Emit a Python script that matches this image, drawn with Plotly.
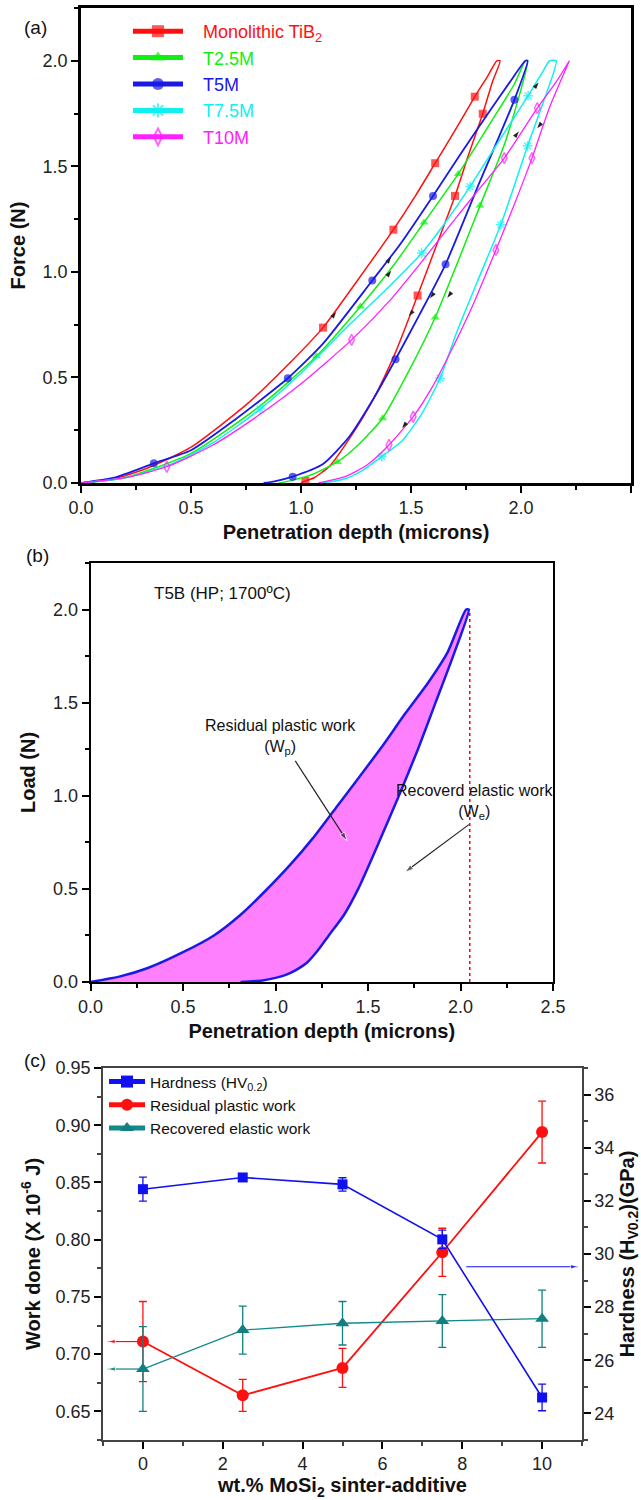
import plotly.graph_objects as go

FONT = "Liberation Sans, Arial, Helvetica, sans-serif"

# ---------------- Panel (a): load-displacement curves ----------------
names_a = ["Monolithic TiB<sub>2</sub>", "T2.5M", "T5M", "T7.5M", "T10M"]

tib2_load_x = [0, 0.15, 0.3, 0.5, 0.75, 0.95, 1.10, 1.25, 1.42, 1.52, 1.61, 1.70, 1.79, 1.85, 1.89]
tib2_load_y = [0, 0.02, 0.07, 0.17, 0.37, 0.57, 0.736, 0.95, 1.20, 1.36, 1.515, 1.67, 1.83, 1.93, 2.0]
tib2_unload_x = [1.905, 1.87, 1.826, 1.76, 1.70, 1.61, 1.53, 1.43, 1.33, 1.22, 1.13, 1.06, 1.02, 1.0]
tib2_unload_y = [2.0, 1.9, 1.749, 1.55, 1.36, 1.11, 0.888, 0.62, 0.40, 0.21, 0.08, 0.025, 0.01, 0.0]

t25_load_x = [0, 0.2, 0.5, 0.82, 1.07, 1.27, 1.42, 1.559, 1.715, 1.87, 1.97, 2.02]
t25_load_y = [0, 0.025, 0.14, 0.37, 0.60, 0.836, 1.03, 1.234, 1.464, 1.72, 1.89, 2.0]
t25_unload_x = [2.03, 1.93, 1.814, 1.71, 1.61, 1.49, 1.371, 1.26, 1.165, 1.05, 0.95, 0.9]
t25_unload_y = [2.0, 1.62, 1.314, 1.04, 0.784, 0.53, 0.307, 0.18, 0.10, 0.04, 0.01, 0.0]

t5_load_x = [0, 0.15, 0.331, 0.5, 0.7, 0.94, 1.1, 1.324, 1.45, 1.60, 1.72, 1.85, 1.95, 2.02]
t5_load_y = [0, 0.025, 0.093, 0.155, 0.30, 0.496, 0.66, 0.959, 1.13, 1.36, 1.55, 1.75, 1.9, 2.0]
t5_unload_x = [2.03, 1.97, 1.81, 1.657, 1.54, 1.43, 1.33, 1.22, 1.10, 0.962, 0.88, 0.83]
t5_unload_y = [2.0, 1.815, 1.42, 1.036, 0.80, 0.586, 0.40, 0.22, 0.09, 0.03, 0.008, 0.0]

t75_load_x = [0, 0.2, 0.4, 0.6, 0.814, 1.0, 1.23, 1.40, 1.549, 1.66, 1.768, 1.90, 2.032, 2.10, 2.13]
t75_load_y = [0, 0.025, 0.085, 0.19, 0.35, 0.52, 0.76, 0.93, 1.089, 1.24, 1.404, 1.62, 1.834, 1.95, 2.0]
t75_unload_x = [2.16, 2.10, 2.03, 1.97, 1.908, 1.80, 1.71, 1.632, 1.55, 1.46, 1.367, 1.28, 1.20, 1.1]
t75_unload_y = [2.0, 1.80, 1.597, 1.41, 1.223, 0.95, 0.72, 0.496, 0.33, 0.20, 0.125, 0.06, 0.02, 0.0]

t10_load_x = [0, 0.2, 0.39, 0.6, 0.82, 1.0, 1.23, 1.40, 1.55, 1.70, 1.80, 1.924, 2.074, 2.16, 2.22]
t10_load_y = [0, 0.025, 0.077, 0.18, 0.33, 0.47, 0.678, 0.86, 1.05, 1.25, 1.38, 1.539, 1.776, 1.9, 2.0]
t10_unload_x = [2.22, 2.13, 2.05, 1.97, 1.886, 1.78, 1.67, 1.60, 1.51, 1.40, 1.30, 1.20, 1.08]
t10_unload_y = [2.0, 1.78, 1.539, 1.32, 1.104, 0.84, 0.60, 0.46, 0.314, 0.18, 0.085, 0.03, 0.0]

# direction arrows drawn on the curves (depth, force)
arrow_load_x = [1.16, 1.41, 1.41, 2.08, 1.99]
arrow_load_y = [0.81, 1.07, 1.005, 1.897, 1.665]
arrow_unload_x = [1.49, 1.586, 1.665, 1.46, 2.074]
arrow_unload_y = [0.79, 0.875, 0.878, 0.26, 1.68]

# ---------------- Panel (b): T5B loop ----------------
t5b_load_x = [0, 0.16, 0.31, 0.5, 0.667, 0.81, 0.946, 1.08, 1.2, 1.33, 1.46, 1.58, 1.70, 1.82, 1.93, 2.03]
t5b_load_y = [0, 0.03, 0.075, 0.16, 0.25, 0.36, 0.49, 0.63, 0.77, 0.94, 1.11, 1.27, 1.44, 1.60, 1.77, 2.0]
t5b_unload_x = [2.045, 1.96, 1.865, 1.77, 1.667, 1.559, 1.447, 1.37, 1.288, 1.225, 1.171, 1.117, 1.063,
                1.0, 0.93, 0.811]
t5b_unload_y = [2.0, 1.75, 1.5, 1.25, 1.0, 0.75, 0.5, 0.36, 0.25, 0.165, 0.105, 0.068, 0.041,
                0.022, 0.008, 0.0]
t5b_max_depth = 2.05
t5b_max_load = 2.0
wp_arrow_x = [1.107, 1.386]
wp_arrow_y = [1.187, 0.759]
we_arrow_x = [2.045, 1.70]
we_arrow_y = [0.845, 0.59]

# ---------------- Panel (c): work done & hardness ----------------
mosi2_wt = [0, 2.5, 5, 7.5, 10]
hardness = [32.44, 32.88, 32.62, 30.55, 24.6]
hardness_err = [0.45, 0.1, 0.25, 0.35, 0.5]
plastic_work = [0.711, 0.664, 0.688, 0.789, 0.894]
plastic_err = [0.035, 0.014, 0.017, 0.021, 0.027]
elastic_work = [0.687, 0.721, 0.727, 0.729, 0.731]
elastic_err = [0.037, 0.021, 0.019, 0.023, 0.025]
hardness_arrow_x = [8.1, 10.9]
hardness_arrow_level = 29.52
work_arrow_x = [-0.1, -0.88]

# ---------------- styles ----------------
W, H = 641, 1500
colors_a = ["#FF1010", "#10F010", "#1A1AE6", "#10F0F0", "#FF20FF"]
symbols_a = ["square", "triangle-up", "circle", "asterisk-open", "diamond-tall-open"]
widths_a = [1.5, 1.5, 1.8, 1.5, 1.3]
marks_a = [
    ([6, 8, 10, 12], [2, 4, 6, 12]),
    ([4, 5, 7, 8], [2, 4, 6, 8]),
    ([2, 5, 7, 9], [1, 3, 5, 9]),
    ([4, 8, 10, 12], [2, 4, 7, 10]),
    ([2, 6, 11, 12], [2, 4, 8, 9]),
]
curves_a = [
    (tib2_load_x, tib2_load_y, tib2_unload_x, tib2_unload_y),
    (t25_load_x, t25_load_y, t25_unload_x, t25_unload_y),
    (t5_load_x, t5_load_y, t5_unload_x, t5_unload_y),
    (t75_load_x, t75_load_y, t75_unload_x, t75_unload_y),
    (t10_load_x, t10_load_y, t10_unload_x, t10_unload_y),
]
NB = "\u00a0\u00a0\u00a0"

fig = go.Figure()

for name, col, sym, lw, (lm, um), (lx, ly, ux, uy) in zip(names_a, colors_a, symbols_a, widths_a, marks_a, curves_a):
    xs = list(lx) + list(ux)
    ys = list(ly) + list(uy)
    marked = set(lm) | {len(lx) + i for i in um}
    sizes = [8 if i in marked else 0 for i in range(len(xs))]
    fig.add_trace(go.Scatter(
        x=xs, y=ys, mode="lines+markers", xaxis="x", yaxis="y",
        name=f'{NB}<span style="color:{col}">{name}</span>',
        line=dict(color=col, width=lw, shape="spline", smoothing=0.6),
        marker=dict(symbol=sym, size=sizes, color=col,
                    line=dict(color=col, width=1.5 if "open" in sym else 0)),
        legend="legend", showlegend=True,
    ))

# small direction arrows on the curves
fig.add_trace(go.Scatter(x=arrow_load_x, y=arrow_load_y, mode="markers", xaxis="x", yaxis="y",
                         marker=dict(symbol="arrow", size=7, angle=38, color="#222222"),
                         showlegend=False, hoverinfo="skip"))
fig.add_trace(go.Scatter(x=arrow_unload_x, y=arrow_unload_y, mode="markers", xaxis="x", yaxis="y",
                         marker=dict(symbol="arrow", size=7, angle=218, color="#222222"),
                         showlegend=False, hoverinfo="skip"))

# panel (b)
loop_x = list(t5b_load_x) + list(t5b_unload_x)
loop_y = list(t5b_load_y) + list(t5b_unload_y)
fig.add_trace(go.Scatter(
    x=loop_x, y=loop_y, mode="lines", fill="toself", fillcolor="#FF80FF",
    line=dict(color="#1A1AE6", width=2.5, shape="spline", smoothing=0.6),
    xaxis="x2", yaxis="y2", showlegend=False, hoverinfo="skip",
))
fig.add_trace(go.Scatter(
    x=[t5b_max_depth, t5b_max_depth], y=[0, t5b_max_load], mode="lines",
    line=dict(color="#FF0000", width=1.5, dash="dot"),
    xaxis="x2", yaxis="y2", showlegend=False, hoverinfo="skip",
))
for axx, axy in [(wp_arrow_x, wp_arrow_y), (we_arrow_x, we_arrow_y)]:
    fig.add_trace(go.Scatter(
        x=axx, y=axy, mode="lines+markers", xaxis="x2", yaxis="y2",
        line=dict(color="#222222", width=1.2),
        marker=dict(symbol="arrow", size=[0, 9], angleref="previous", color="#222222"),
        showlegend=False, hoverinfo="skip",
    ))

# panel (c)
fig.add_trace(go.Scatter(
    x=mosi2_wt, y=hardness, mode="lines+markers", name="Hardness (HV<sub>0.2</sub>)",
    line=dict(color="#1010F0", width=1.6),
    marker=dict(symbol="square", size=10, color="#1010F0"),
    error_y=dict(type="data", array=hardness_err, color="#1010F0", thickness=1.3, width=4),
    xaxis="x3", yaxis="y4", legend="legend2",
))
fig.add_trace(go.Scatter(
    x=mosi2_wt, y=plastic_work, mode="lines+markers", name="Residual plastic work",
    line=dict(color="#FF1010", width=1.8),
    marker=dict(symbol="circle", size=12, color="#FF1010"),
    error_y=dict(type="data", array=plastic_err, color="#FF1010", thickness=1.3, width=4),
    xaxis="x3", yaxis="y3", legend="legend2",
))
fig.add_trace(go.Scatter(
    x=mosi2_wt, y=elastic_work, mode="lines+markers", name="Recovered elastic work",
    line=dict(color="#128A8A", width=1.3),
    marker=dict(symbol="triangle-up", size=12, color="#128080"),
    error_y=dict(type="data", array=elastic_err, color="#128080", thickness=1.3, width=4),
    xaxis="x3", yaxis="y3", legend="legend2",
))
# arrows pointing to the relevant axes
for yv, col in [(plastic_work[0], "#FF1010"), (elastic_work[0], "#128080")]:
    fig.add_trace(go.Scatter(
        x=work_arrow_x, y=[yv, yv], mode="lines+markers", xaxis="x3", yaxis="y3",
        line=dict(color=col, width=1.2),
        marker=dict(symbol="arrow", size=[0, 8], angle=-90, color=col),
        showlegend=False, hoverinfo="skip", cliponaxis=False,
    ))
fig.add_trace(go.Scatter(
    x=hardness_arrow_x, y=[hardness_arrow_level, hardness_arrow_level], mode="lines+markers",
    xaxis="x3", yaxis="y4", line=dict(color="#1010F0", width=1.2),
    marker=dict(symbol="arrow", size=[0, 8], angle=90, color="#1010F0"),
    showlegend=False, hoverinfo="skip", cliponaxis=False,
))

tickfont = dict(family=FONT, size=18, color="#222222")
titlefont = dict(family=FONT, size=20, color="#111111")


def ax(**kw):
    base = dict(showgrid=False, zeroline=False, showline=True, linecolor="black",
                ticks="outside", tickcolor="black", ticklen=7, tickwidth=1.5,
                tickfont=tickfont, automargin=False)
    base.update(kw)
    return base


fig.update_layout(
    width=W, height=H, margin=dict(l=0, r=0, t=0, b=0, autoexpand=False),
    paper_bgcolor="white", plot_bgcolor="white",
    font=dict(family=FONT, color="#111111"),
    xaxis=ax(domain=[81 / W, 631 / W], range=[0, 2.5], dtick=0.5, tick0=0, tickformat=".1f",
             linewidth=2.5, mirror=True, anchor="y",
             minor=dict(ticks="outside", dtick=0.25, ticklen=4, tickcolor="black"),
             title=dict(text="<b>Penetration depth (microns)</b>", font=titlefont, standoff=8)),
    yaxis=ax(domain=[1 - 483 / H, 1 - 8 / H], range=[0, 2.25], dtick=0.5, tick0=0, tickformat=".1f",
             linewidth=2.5, mirror=True, anchor="x",
             minor=dict(ticks="outside", dtick=0.25, ticklen=4, tickcolor="black"),
             title=dict(text="<b>Force (N)</b>", font=titlefont, standoff=12)),
    xaxis2=ax(domain=[90.5 / W, 553 / W], range=[0, 2.5], dtick=0.5, tick0=0, tickformat=".1f",
              linewidth=1.8, mirror=True, anchor="y2",
              minor=dict(ticks="outside", dtick=0.25, ticklen=4, tickcolor="black"),
              title=dict(text="<b>Penetration depth (microns)</b>", font=titlefont, standoff=8)),
    yaxis2=ax(domain=[1 - 982 / H, 1 - 563 / H], range=[0, 2.25], dtick=0.5, tick0=0, tickformat=".1f",
              linewidth=1.8, mirror=True, anchor="x2",
              minor=dict(ticks="outside", dtick=0.25, ticklen=4, tickcolor="black"),
              title=dict(text="<b>Load (N)</b>", font=titlefont, standoff=12)),
    xaxis3=ax(domain=[103 / W, 582 / W], range=[-1, 11], dtick=2, tick0=0,
              linewidth=1.5, linecolor="#444444", mirror=True, anchor="y3",
              minor=dict(ticks="outside", dtick=1, ticklen=4, tickcolor="#444444"),
              title=dict(text="<b>wt.% MoSi<sub>2</sub> sinter-additive</b>", font=titlefont, standoff=4)),
    yaxis3=ax(domain=[1 - 1440 / H, 1 - 1068 / H], range=[0.625, 0.95], dtick=0.05, tick0=0.65,
              tickformat=".2f", linewidth=1.5, linecolor="#444444", mirror=True, anchor="x3",
              minor=dict(ticks="outside", dtick=0.025, ticklen=4, tickcolor="#444444"),
              title=dict(text="<b>Work done (X 10<sup>-6</sup> J)</b>", font=titlefont, standoff=10)),
    yaxis4=ax(overlaying="y3", side="right", range=[23, 37], dtick=2, tick0=24, anchor="x3",
              linewidth=1.5, linecolor="#444444",
              minor=dict(ticks="outside", dtick=1, ticklen=4, tickcolor="#444444"),
              title=dict(text="<b>Hardness (H<sub>V0.2</sub>)(GPa)</b>", font=titlefont, standoff=22)),
    legend=dict(x=128 / W, y=1 - 13 / H, xanchor="left", yanchor="top",
                bgcolor="rgba(0,0,0,0)", font=dict(family=FONT, size=18),
                itemwidth=50, itemsizing="constant", tracegroupgap=0),
    legend2=dict(x=104 / W, y=1 - 1065 / H, xanchor="left", yanchor="top",
                 bgcolor="rgba(0,0,0,0)", font=dict(family=FONT, size=15.5, color="#111111"),
                 itemwidth=36, itemsizing="constant", tracegroupgap=0),
)

annotations = [
    dict(text="(a)", x=22 / W, y=1 - 15 / H, xref="paper", yref="paper", showarrow=False,
         font=dict(family=FONT, size=19, color="#111111")),
    dict(text="(b)", x=24 / W, y=1 - 555 / H, xref="paper", yref="paper", showarrow=False,
         font=dict(family=FONT, size=19, color="#111111")),
    dict(text="(c)", x=22 / W, y=1 - 1073 / H, xref="paper", yref="paper", showarrow=False,
         font=dict(family=FONT, size=19, color="#111111")),
    dict(text="T5B (HP; 1700ºC)", x=0.33, y=2.085, xref="x2", yref="y2", xanchor="left",
         showarrow=False, font=dict(family=FONT, size=17, color="#111111")),
    dict(text="Residual plastic work<br>(W<sub>p</sub>)", x=1.025, y=1.315, xref="x2", yref="y2",
         showarrow=False, font=dict(family=FONT, size=16, color="#111111")),
    dict(text="Recoverd elastic work<br>(W<sub>e</sub>)", x=2.08, y=0.965, xref="x2", yref="y2",
         showarrow=False, font=dict(family=FONT, size=16, color="#111111")),
]
fig.update_layout(annotations=annotations)

fig.write_html("out.html", config={"displayModeBar": False},
               post_script="document.body.style.margin='0';")
